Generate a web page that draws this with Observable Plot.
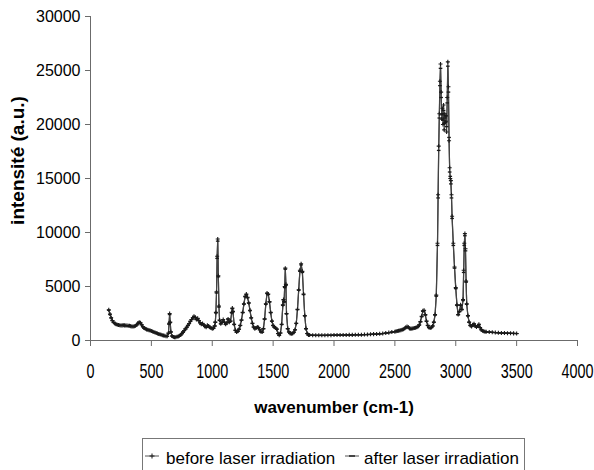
<!DOCTYPE html>
<html>
<head>
<meta charset="utf-8">
<script src="https://cdn.jsdelivr.net/npm/d3@7"></script>
<script src="https://cdn.jsdelivr.net/npm/@observablehq/plot@0.6"></script>
<style>
  body { margin: 0; background: #fff; }
  #chart { position: relative; width: 594px; height: 470px; overflow: hidden; background: #fff;
           font-family: "Liberation Sans", Arial, sans-serif; }
  #legend { position: absolute; left: 142px; top: 438px; width: 383px; height: 40px;
            border: 1px solid #777; box-sizing: border-box; font-size: 17px; color: #000; }
  #legend .item { position: absolute; top: 10px; height: 20px; line-height: 20px; white-space: nowrap; }
  #legend svg { position: absolute; top: 0; }
</style>
</head>
<body>
<div id="chart"></div>
<script>
// Raman spectrum, wavenumber in cm-1
const wavenumber = [
  150,160,170,180,190,200,210,220,230,240,
  250,260,270,280,290,300,310,320,330,340,
  350,360,370,380,390,400,410,420,430,440,
  450,460,470,480,490,500,510,520,530,540,
  550,560,570,580,590,600,610,620,630,640,
  645,650,655,660,670,680,690,700,710,720,
  730,740,750,760,770,780,790,800,810,820,
  830,840,850,860,870,880,890,900,910,920,
  930,940,950,960,970,980,990,1000,1010,1020,
  1025,1030,1035,1040,1045,1050,1055,1060,1070,1080,
  1090,1100,1110,1120,1130,1140,1150,1160,1165,1170,
  1180,1190,1200,1210,1220,1230,1240,1250,1260,1270,
  1280,1290,1300,1310,1320,1330,1340,1350,1360,1370,
  1380,1390,1400,1410,1420,1430,1440,1450,1460,1470,
  1480,1490,1500,1510,1520,1530,1540,1550,1560,1570,
  1580,1585,1590,1595,1600,1605,1610,1620,1630,1640,
  1650,1660,1670,1680,1690,1700,1710,1720,1730,1740,
  1750,1760,1770,1780,1790,1800,1825,1850,1875,1900,
  1925,1950,1975,2000,2025,2050,2075,2100,2125,2150,
  2175,2200,2225,2250,2275,2300,2325,2350,2375,2400,
  2425,2450,2475,2500,2510,2520,2530,2540,2550,2560,
  2570,2580,2590,2600,2610,2620,2630,2640,2650,2660,
  2670,2680,2690,2700,2710,2720,2730,2740,2750,2760,
  2770,2780,2790,2800,2810,2820,2830,2840,2850,2855,
  2860,2865,2870,2875,2880,2885,2890,2895,2900,2905,
  2910,2915,2920,2925,2930,2935,2940,2945,2950,2955,
  2960,2965,2970,2980,2990,3000,3010,3020,3030,3040,
  3050,3060,3065,3070,3075,3080,3085,3090,3100,3110,
  3120,3130,3140,3150,3160,3170,3180,3190,3200,3210,
  3220,3230,3240,3250,3275,3300,3325,3350,3375,3400,
  3425,3450,3475,3500
];

// intensity before laser irradiation (a.u.)
const before = [
  2850,2450,2100,1850,1680,1580,1500,1450,1430,1410,
  1390,1400,1420,1400,1390,1380,1370,1360,1330,1300,
  1290,1310,1360,1460,1600,1700,1640,1460,1280,1160,
  1080,1030,990,960,920,880,830,790,740,700,
  650,610,570,530,490,460,430,400,390,700,
  1600,2500,1700,800,420,330,300,310,340,380,
  430,520,640,780,930,1080,1230,1400,1580,1780,
  1950,2100,2250,2150,1950,2050,1850,1650,1500,1580,
  1450,1300,1220,1400,1330,1230,1150,1100,1130,1350,
  1700,2600,4500,7800,9400,6000,3200,1900,1550,1700,
  1950,1700,1500,1650,2000,1700,1800,2600,3000,2700,
  1500,950,780,850,1050,1400,1900,2600,3400,4100,
  4300,4000,3500,2800,2100,1600,1250,1100,1150,1250,
  1200,1000,800,780,1100,2000,3400,4400,4300,3600,
  2600,1800,1400,1250,1150,1050,650,480,700,1500,
  3300,3800,3600,5000,6700,5200,2500,1100,800,650,
  620,650,760,1000,1600,2900,4700,6500,7100,6400,
  4300,2300,1100,650,520,500,490,480,480,480,
  480,490,490,500,500,500,510,510,520,520,
  530,540,540,550,560,570,590,600,620,650,
  690,730,780,820,850,880,900,930,960,1000,
  1050,1120,1220,1300,1250,1120,1080,1100,1130,1150,
  1180,1230,1300,1450,1750,2250,2750,2800,2400,1800,
  1400,1200,1150,1200,1350,1700,2400,4200,9000,13500,
  18000,21000,24000,25600,23000,20500,21500,20000,21800,19500,
  21000,20200,20800,19300,22500,25800,23500,18500,16000,15000,
  14800,13500,11500,9000,6800,4900,3300,2400,2700,3300,
  2900,3800,6500,9000,9900,8500,5500,3400,2300,1700,
  1400,1300,1450,1550,1350,1250,1350,1500,1200,1000,
  900,850,820,800,780,760,740,720,700,690,
  680,670,660,650
];

// intensity after laser irradiation (a.u.)
const after = [
  2800,2400,2080,1830,1660,1570,1490,1440,1420,1400,
  1380,1390,1410,1390,1380,1370,1360,1350,1320,1290,
  1280,1300,1350,1450,1580,1680,1620,1450,1270,1150,
  1070,1020,980,950,910,870,820,780,730,690,
  640,600,560,520,480,450,420,390,380,650,
  1500,2400,1650,780,410,320,290,300,330,370,
  420,510,630,770,910,1060,1210,1380,1560,1760,
  1930,2080,2220,2130,1930,2020,1830,1630,1480,1560,
  1430,1290,1210,1380,1310,1210,1140,1090,1120,1330,
  1680,2550,4400,7600,9200,5900,3100,1850,1530,1680,
  1920,1680,1480,1630,1970,1680,1780,2550,2950,2650,
  1480,940,770,840,1040,1380,1880,2570,3350,4050,
  4250,3950,3450,2760,2080,1580,1240,1090,1140,1240,
  1190,990,790,770,1080,1970,3350,4350,4250,3550,
  2570,1780,1380,1240,1140,1040,640,470,690,1480,
  3250,3750,3550,4900,6600,5100,2450,1080,790,640,
  610,640,750,980,1580,2850,4650,6400,7000,6300,
  4250,2270,1080,640,510,490,480,470,470,470,
  470,480,480,490,490,490,500,500,510,510,
  520,530,530,540,550,560,580,590,610,640,
  680,720,770,810,840,870,890,920,950,990,
  1040,1100,1200,1280,1230,1100,1060,1080,1110,1130,
  1160,1210,1280,1420,1720,2200,2700,2750,2350,1770,
  1380,1180,1130,1180,1330,1680,2350,4100,8800,13200,
  17600,20600,23600,25200,22500,20900,21000,20400,21300,20100,
  20600,20800,20300,19800,22000,25400,23000,18800,15600,15200,
  14500,13200,11300,8800,6700,4800,3250,2380,2650,3250,
  2850,3700,6300,8800,9700,8300,5400,3350,2270,1680,
  1380,1290,1430,1530,1340,1240,1330,1480,1190,990,
  890,840,810,790,770,750,730,710,690,680,
  670,660,650,640
];

const xTicks = [0, 500, 1000, 1500, 2000, 2500, 3000, 3500, 4000];
const yTicks = [0, 5000, 10000, 15000, 20000, 25000, 30000];
const seriesNames = ["before laser irradiation", "after laser irradiation"];

const rows = wavenumber.map((w, i) => ({w, before: before[i], after: after[i]}));

// short horizontal dash used as the marker of the second series
const dashSymbol = {
  draw(context, size) {
    const r = Math.sqrt(size / Math.PI) * 1.4;
    context.moveTo(-r, 0);
    context.lineTo(r, 0);
  }
};

const axisColor = "#6b6b6b";
const ink = "#1a1a1a";

const chart = Plot.plot({
  width: 594,
  height: 436,
  marginLeft: 90,
  marginRight: 17,
  marginTop: 16,
  marginBottom: 96,
  style: {fontFamily: "Liberation Sans, Arial, sans-serif", fontSize: "15px", color: "#000", background: "#fff", overflow: "visible"},
  x: {domain: [0, 4000]},
  y: {domain: [0, 30000]},
  marks: [
    Plot.axisX({ticks: xTicks, tickFormat: "d", tickSize: 6, tickPadding: 17, label: null,
                stroke: axisColor, fill: "#000", fontSize: 20, ariaLabel: "x-axis"}),
    Plot.axisY({ticks: yTicks, tickFormat: "d", tickSize: 5, tickPadding: 5, label: null,
                stroke: axisColor, fill: "#000", fontSize: 16}),
    Plot.ruleY([0], {stroke: axisColor}),
    Plot.ruleX([0], {stroke: axisColor}),
    Plot.line(rows, {x: "w", y: "after", stroke: "#444", strokeWidth: 1.2}),
    Plot.line(rows, {x: "w", y: "before", stroke: "#444", strokeWidth: 1.2}),
    Plot.dot(rows, {x: "w", y: "after", symbol: dashSymbol, r: 1.3, stroke: ink, strokeWidth: 1.3, fill: "none"}),
    Plot.dot(rows, {x: "w", y: "before", symbol: "plus", r: 1.4, stroke: ink, strokeWidth: 1.1, fill: "none"}),
    Plot.text(["wavenumber (cm-1)"], {frameAnchor: "bottom", dy: 72, fontWeight: "bold", fontSize: 17, fill: "#000"}),
    Plot.text(["intensité (a.u.)"], {frameAnchor: "left", textAnchor: "middle", dx: -73, dy: -18, rotate: -90,
                                     fontWeight: "bold", fontSize: 19, fill: "#000"})
  ]
});

// the wavenumber tick labels are set in a condensed, taller face
chart.querySelectorAll('g[aria-label="x-axis tick label"] text').forEach((t) => {
  const x = +(t.getAttribute("x") || 0);
  const base = t.getAttribute("transform") || "";
  t.setAttribute("transform", `${base} translate(${x},0) scale(0.72,1) translate(${-x},0)`);
});

const root = document.getElementById("chart");
root.appendChild(chart);

// legend below the plot
const legend = document.createElement("div");
legend.id = "legend";
legend.innerHTML = `
  <svg width="16" height="28" style="left:1px"><line x1="1" x2="15" y1="17" y2="17" stroke="#555"/><line x1="8" x2="8" y1="14.5" y2="19.5" stroke="${ink}"/><line x1="5.5" x2="10.5" y1="17" y2="17" stroke="${ink}"/></svg>
  <span class="item" style="left:23px"></span>
  <svg width="16" height="28" style="left:201px"><line x1="1" x2="15" y1="17" y2="17" stroke="#555"/><line x1="5" x2="11" y1="17" y2="17" stroke="${ink}" stroke-width="1.4"/></svg>
  <span class="item" style="left:221px"></span>`;
const items = legend.querySelectorAll(".item");
items[0].textContent = seriesNames[0];
items[1].textContent = seriesNames[1];
root.appendChild(legend);
</script>
</body>
</html>
